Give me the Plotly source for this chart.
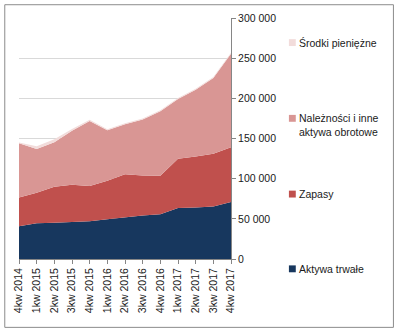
import plotly.graph_objects as go

# Quarter labels
quarters = ["4kw 2014", "1kw 2015", "2kw 2015", "3kw 2015", "4kw 2015",
            "1kw 2016", "2kw 2016", "3kw 2016", "4kw 2016",
            "1kw 2017", "2kw 2017", "3kw 2017", "4kw 2017"]

# Balance sheet assets (stacked), thousands PLN
aktywa_trwale = [40900, 44600, 45000, 46200, 47000, 49500, 52000, 54000, 55600, 63400, 64200, 65400, 70800]
zapasy = [35600, 38000, 45000, 46200, 43800, 47800, 53500, 49900, 47900, 61300, 63400, 65500, 68200]
naleznosci = [67500, 54400, 55200, 67100, 81000, 63000, 62200, 69900, 80500, 74500, 83000, 94500, 116600]
srodki = [1000, 3500, 3800, 2200, 1500, 1200, 1200, 1000, 1200, 1200, 1200, 1200, 1200]

series = [
    ("Aktywa trwałe", aktywa_trwale, "#17375E"),
    ("Zapasy", zapasy, "#C0504D"),
    ("Należności i inne<br>aktywa obrotowe", naleznosci, "#D99694"),
    ("Środki pieniężne", srodki, "#F2DCDB"),
]

W, H = 398, 330
ML, MR, MT, MB = 15, 167, 14, 71
PW, PH = W - ML - MR, H - MT - MB

def px(x):
    return (x - ML) / PW

def py(y):
    return (H - MB - y) / PH

fig = go.Figure()
for name, vals, color in series:
    fig.add_trace(go.Scatter(
        x=list(range(len(quarters))), y=vals, name=name,
        mode="lines", stackgroup="one", line=dict(width=0, color=color),
        fillcolor=color, showlegend=False, hoverinfo="x+y"))

font = dict(family="Liberation Sans, Arial, sans-serif", size=10.5, color="#1a1a1a")

# Hand-placed legend, each entry beside its band
legend_pos = {
    "Środki pieniężne": 39,
    "Należności i inne<br>aktywa obrotowe": 123,
    "Zapasy": 193,
    "Aktywa trwałe": 269,
}
marker_pos = {
    "Środki pieniężne": 39,
    "Należności i inne<br>aktywa obrotowe": 116,
    "Zapasy": 193,
    "Aktywa trwałe": 269,
}
shapes = []
annotations = []
for name, vals, color in series:
    cy = marker_pos[name]
    shapes.append(dict(type="rect", xref="paper", yref="paper",
                       x0=px(290), x1=px(297), y0=py(cy + 3.5), y1=py(cy - 3.5),
                       fillcolor=color, line=dict(width=0)))
    annotations.append(dict(text=name, xref="paper", yref="paper",
                            x=px(298), y=py(legend_pos[name]), xanchor="left",
                            yanchor="middle", align="left", showarrow=False,
                            font=font))

# Outer frame
shapes.append(dict(type="rect", xref="paper", yref="paper",
                   x0=px(0.5), x1=px(W - 1.5), y0=py(H - 1.5), y1=py(0.5),
                   line=dict(color="#8c8c8c", width=1), fillcolor="rgba(0,0,0,0)",
                   layer="above"))

fig.update_layout(
    width=W, height=H,
    margin=dict(l=ML, r=MR, t=MT, b=MB),
    paper_bgcolor="white", plot_bgcolor="white",
    separators=", ",
    font=font,
    shapes=shapes, annotations=annotations,
    showlegend=False,
    xaxis=dict(
        tickmode="array", tickvals=list(range(len(quarters))), ticktext=quarters,
        tickangle=-90, range=[0, len(quarters) - 1], showgrid=False,
        showline=True, linecolor="#868686", linewidth=1,
        ticks="outside", ticklen=4, tickcolor="#868686", zeroline=False,
        tickfont=font,
    ),
    yaxis=dict(
        side="right", range=[0, 300000], tickvals=[0, 50000, 100000, 150000, 200000, 250000, 300000],
        tickformat=",d", showgrid=True, gridcolor="#d9d9d9", gridwidth=1,
        showline=True, linecolor="#868686", linewidth=1,
        ticks="outside", ticklen=4, tickcolor="#868686", zeroline=False,
        tickfont=font,
    ),
)

fig.write_html("out.html")
